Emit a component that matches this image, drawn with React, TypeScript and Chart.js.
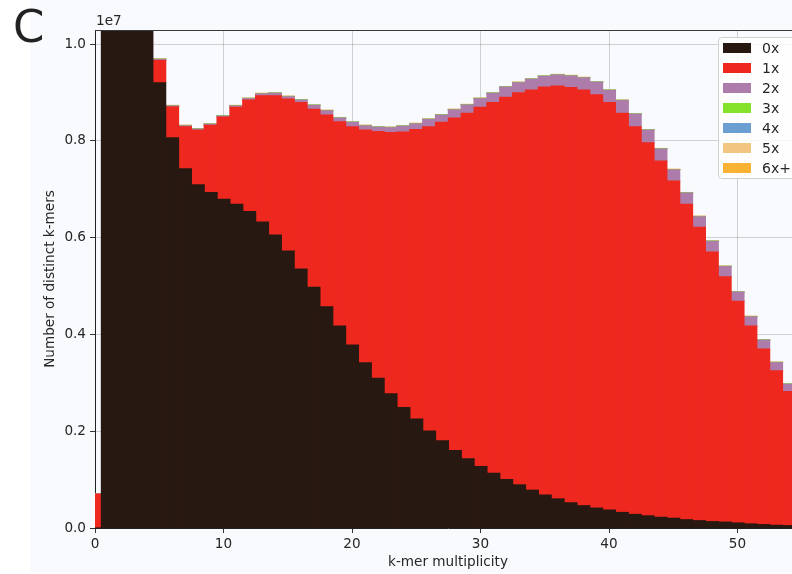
import React, { useEffect, useRef } from "react";
import { Chart, registerables } from "chart.js";

Chart.register(...registerables);

// k-mer multiplicity bins
const multiplicity: number[] = Array.from({ length: 55 }, (_, i) => i);

// layer heights in millions of distinct k-mers
const count0x: number[] = [
  0, 60, 26, 14.5, 11.2, 9.2, 8.06, 7.42, 7.09, 6.93, 6.79, 6.69, 6.54, 6.32, 6.05, 5.72, 5.35,
  4.97, 4.57, 4.17, 3.78, 3.41, 3.09, 2.77, 2.49, 2.25, 2.0, 1.8, 1.6, 1.43, 1.27, 1.13, 1.0,
  0.89, 0.78, 0.68, 0.6, 0.52, 0.46, 0.41, 0.37, 0.32, 0.28, 0.25, 0.22, 0.2, 0.17, 0.15, 0.13,
  0.12, 0.103, 0.083, 0.069, 0.055, 0.048,
];
const count1x: number[] = [
  0.7, 0.2, 0.3, 0.5, 0.8, 0.46, 0.64, 0.87, 1.13, 1.39, 1.7, 2.0, 2.3, 2.61, 2.88, 3.14, 3.44,
  3.68, 3.96, 4.22, 4.51, 4.81, 5.1, 5.4, 5.69, 5.98, 6.29, 6.58, 6.87, 7.14, 7.42, 7.66, 7.9,
  8.1, 8.27, 8.43, 8.53, 8.58, 8.59, 8.54, 8.42, 8.25, 8.01, 7.71, 7.36, 6.97, 6.52, 6.06, 5.57,
  5.07, 4.58, 4.09, 3.63, 3.19, 2.77,
];
const count2x: number[] = [
  0, 0, 0, 0, 0, 0.02, 0.02, 0.02, 0.02, 0.02, 0.02, 0.03, 0.03, 0.04, 0.05, 0.05, 0.05, 0.08,
  0.09, 0.08, 0.09, 0.09, 0.09, 0.1, 0.12, 0.12, 0.15, 0.15, 0.17, 0.17, 0.18, 0.19, 0.21, 0.21,
  0.22, 0.22, 0.23, 0.24, 0.25, 0.26, 0.25, 0.26, 0.26, 0.26, 0.25, 0.23, 0.23, 0.22, 0.22, 0.21,
  0.19, 0.19, 0.18, 0.17, 0.15,
];
const count3x: number[] = multiplicity.map((k) => (k >= 5 ? 0.005 : 0));
const count4x: number[] = multiplicity.map((k) => (k >= 5 ? 0.001 : 0));
const count5x: number[] = multiplicity.map((k) => (k >= 5 ? 0.004 : 0));
const count6x: number[] = multiplicity.map((k) => (k >= 5 ? 0.001 : 0));

const seriesLabels: string[] = ["0x", "1x", "2x", "3x", "4x", "5x", "6x+"];
const seriesColors: string[] = ["#271811", "#ee281e", "#ad7caa", "#84e22a", "#6b9fd2", "#f3c583", "#f9b234"];
const seriesValues: number[][] = [count0x, count1x, count2x, count3x, count4x, count5x, count6x];

const yTicks: number[] = [0, 2e6, 4e6, 6e6, 8e6, 1e7];
const xTicks: number[] = [0, 10, 20, 30, 40, 50];

const FONT = "'DejaVu Sans', sans-serif";
const TEXT = "#262626";
const FS = 13.6;

export default function App() {
  const canvasRef = useRef<HTMLCanvasElement | null>(null);

  useEffect(() => {
    document.body.style.margin = "0";
    const canvas = canvasRef.current;
    if (!canvas) return;

    const frame = {
      id: "frame",
      afterDraw(chart: any) {
        const { ctx, chartArea } = chart;
        ctx.save();
        ctx.strokeStyle = "#3a3a3a";
        ctx.lineWidth = 1;
        ctx.beginPath();
        ctx.moveTo(chartArea.left, chartArea.top + 0.5);
        ctx.lineTo(chartArea.right, chartArea.top + 0.5);
        ctx.stroke();
        ctx.fillStyle = TEXT;
        ctx.font = `${FS}px ${FONT}`;
        ctx.textAlign = "left";
        ctx.textBaseline = "bottom";
        ctx.fillText("1e7", chartArea.left + 1, chartArea.top - 2);
        ctx.restore();
      },
    };

    const chart = new Chart(canvas, {
      type: "bar",
      data: {
        datasets: seriesValues.map((vals, i) => ({
          label: seriesLabels[i],
          data: multiplicity.map((x, j) => ({ x, y: vals[j] * 1e6 })),
          backgroundColor: seriesColors[i],
          borderWidth: 0,
          inflateAmount: 0.6,
          barPercentage: 1,
          categoryPercentage: 1,
        })),
      },
      options: {
        animation: false,
        responsive: false,
        events: [],
        layout: { padding: { top: 30, left: 0, right: 0, bottom: 0 } },
        plugins: { legend: { display: false }, tooltip: { enabled: false } },
        scales: {
          x: {
            type: "linear",
            stacked: true,
            offset: false,
            min: 0,
            max: 54.94,
            z: 1,
            afterFit: (s: any) => {
              s.height = 46;
            },
            afterBuildTicks: (s: any) => {
              s.ticks = xTicks.map((v) => ({ value: v }));
            },
            grid: {
              offset: false,
              color: "rgba(0,0,0,0.17)",
              lineWidth: 1,
              tickLength: 5,
              tickColor: "#333",
            },
            border: { color: "#222", width: 1 },
            ticks: {
              includeBounds: false,
              padding: 3,
              color: TEXT,
              font: { family: FONT, size: FS },
              maxRotation: 0,
              callback: (v: any) => String(v),
            },
            title: {
              display: true,
              text: "k-mer multiplicity",
              color: TEXT,
              font: { family: FONT, size: FS },
              padding: { top: 0, bottom: 3 },
            },
          },
          y: {
            type: "linear",
            stacked: true,
            min: 0,
            max: 1.029e7,
            z: 1,
            afterFit: (s: any) => {
              s.width = 95;
            },
            afterBuildTicks: (s: any) => {
              s.ticks = yTicks.map((v) => ({ value: v }));
            },
            grid: {
              color: "rgba(0,0,0,0.17)",
              lineWidth: 1,
              tickLength: 5,
              tickColor: "#333",
            },
            border: { color: "#222", width: 1 },
            ticks: {
              includeBounds: false,
              padding: 4,
              color: TEXT,
              font: { family: FONT, size: FS },
              callback: (v: any) => (Number(v) / 1e7).toFixed(1),
            },
            title: {
              display: true,
              text: "Number of distinct k-mers",
              color: TEXT,
              font: { family: FONT, size: FS },
              padding: { top: 42, bottom: 0 },
            },
          },
        },
      },
      plugins: [frame],
    } as any);

    return () => {
      chart.destroy();
    };
  }, []);

  return (
    <div
      style={{
        position: "fixed",
        left: 0,
        top: 0,
        width: 792,
        height: 574,
        overflow: "hidden",
        background: "#ffffff",
        fontFamily: FONT,
      }}
    >
      <div style={{ position: "absolute", left: 30, top: 0, width: 762, height: 572, background: "#f8fafd" }} />
      <canvas
        ref={canvasRef}
        width={801}
        height={574}
        style={{ position: "absolute", left: 0, top: 0, width: 801, height: 574 }}
      />
      <div
        style={{
          position: "absolute",
          left: 13,
          top: 4,
          fontSize: 45,
          lineHeight: "45px",
          color: "#222",
          fontFamily: FONT,
        }}
      >
        C
      </div>
      <div
        style={{
          position: "absolute",
          left: 718,
          top: 37,
          width: 100,
          height: 142,
          border: "1px solid #d0d0d0",
          borderRadius: 4,
          background: "rgba(255,255,255,0.8)",
          boxSizing: "border-box",
        }}
      >
        {seriesLabels.map((lab, i) => (
          <div key={lab} style={{ position: "absolute", left: 0, top: 4 + i * 20, height: 20, width: 100 }}>
            <div
              style={{
                position: "absolute",
                left: 4,
                top: 1,
                width: 28,
                height: 10,
                background: seriesColors[i],
              }}
            />
            <div
              style={{
                position: "absolute",
                left: 43,
                top: -2,
                fontSize: 14,
                lineHeight: "16px",
                color: TEXT,
                fontFamily: FONT,
                whiteSpace: "nowrap",
              }}
            >
              {lab}
            </div>
          </div>
        ))}
      </div>
    </div>
  );
}
